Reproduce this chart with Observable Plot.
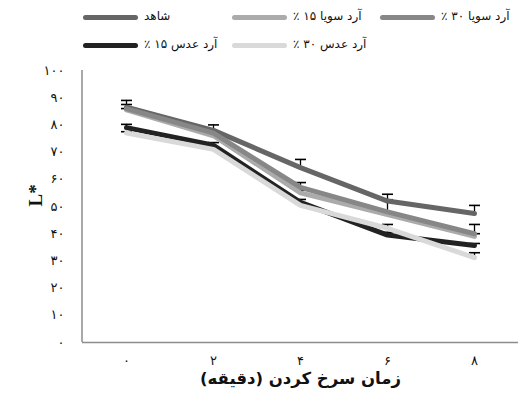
<!DOCTYPE html>
<html><head><meta charset="utf-8">
<script src="https://cdn.jsdelivr.net/npm/d3@7"></script>
<script src="https://cdn.jsdelivr.net/npm/@observablehq/plot@0.6"></script>
<style>
body{margin:0;background:#fff;font-family:"DejaVu Sans",sans-serif;}
#wrap{position:relative;width:518px;height:401px;}
#legend{position:relative;height:58px;width:518px;}
.sw{position:absolute;width:55px;height:5px;border-radius:3px;}
.lt{position:absolute;font-size:12px;color:#111;direction:rtl;white-space:nowrap;line-height:14px;}
</style></head>
<body><div id="wrap"><div id="legend"></div><div id="chart"></div></div>
<script>
const times = [0, 2, 4, 6, 8];
const timeLabels = ["۰", "۲", "۴", "۶", "۸"];
const seriesNames = ["شاهد", "آرد سویا ۱۵ ٪", "آرد سویا ۳۰ ٪", "آرد عدس ۱۵ ٪", "آرد عدس ۳۰ ٪"];
const seriesColors = ["#666666", "#ababab", "#878787", "#222222", "#d9d9d9"];
const shahed = [86.5, 78, 64.3, 52, 47.4];
const soya15 = [85.5, 76, 55, 47, 39];
const soya30 = [86, 77, 57, 48, 40];
const adas15 = [79, 72.5, 51.5, 39.5, 35.7];
const adas30 = [77, 71, 50.4, 42, 31.2];
const errShahed = [2.5, 2, 3, 2.5, 3];
const errSoya15 = [0.5, 0.5, 1, 1, 1];
const errSoya30 = [1.5, 0.5, 1.8, 4.5, 3.4];
const errAdas15 = [1.2, 1, 1.1, 1, 0.7];
const errAdas30 = [0.5, 0.5, 0.5, 1.4, 1.8];
const yTicks = [0,10,20,30,40,50,60,70,80,90,100];
const yTickLabels = ["۰","۱۰","۲۰","۳۰","۴۰","۵۰","۶۰","۷۰","۸۰","۹۰","۱۰۰"];
const xTitle = "زمان سرخ کردن (دقیقه)";
const yTitle = "L*";

const allVals = [shahed, soya15, soya30, adas15, adas30];
const allErr = [errShahed, errSoya15, errSoya30, errAdas15, errAdas30];
const data = [];
allVals.forEach((vals, s) => vals.forEach((v, i) => data.push({series: seriesNames[s], t: times[i], v, e: allErr[s][i]})));

// legend
const legendPos = [[83,17],[232,17],[380,17],[83,45],[232,45]];
const leg = document.getElementById("legend");
seriesNames.forEach((n, i) => {
  const [x, y] = legendPos[i];
  const sw = document.createElement("div");
  sw.className = "sw"; sw.style.left = x + "px"; sw.style.top = (y - 2.5) + "px"; sw.style.background = seriesColors[i];
  leg.appendChild(sw);
  const t = document.createElement("div");
  t.className = "lt"; t.textContent = n; t.style.left = (x + 61) + "px"; t.style.top = (y - 8) + "px";
  leg.appendChild(t);
});

const capSymbol = {draw(ctx, size) { ctx.moveTo(-5.5, 0); ctx.lineTo(5.5, 0); }};

const chart = Plot.plot({
  width: 518, height: 343,
  marginLeft: 82, marginRight: 0, marginTop: 12, marginBottom: 59,
  style: {fontFamily: "DejaVu Sans, sans-serif", fontSize: "12px", color: "#111", background: "#fff"},
  x: {type: "point", domain: times, padding: 0.5, label: null},
  y: {domain: [0, 100], label: null},
  color: {domain: seriesNames, range: seriesColors},
  marks: [
    Plot.axisY({ticks: yTicks, tickFormat: d => yTickLabels[yTicks.indexOf(d)], tickSize: 0, tickPadding: 18, fontSize: 13}),
    Plot.axisX({tickFormat: d => timeLabels[times.indexOf(d)], tickSize: 0, tickPadding: 13, fontSize: 13}),
    Plot.ruleY([0], {stroke: "#8c8c8c", strokeWidth: 1.5}),
    Plot.ruleX(data, {x: "t", y1: "v", y2: d => d.v + d.e, stroke: "#000", strokeWidth: 1.3}),
    Plot.dot(data, {x: "t", y: d => d.v + d.e, symbol: capSymbol, r: 4, stroke: "#000", fill: "none", strokeWidth: 1.6}),
    Plot.line(data, {x: "t", y: "v", z: "series", stroke: "series", strokeWidth: 5, strokeLinejoin: "round", strokeLinecap: "round"}),
    Plot.text([xTitle], {frameAnchor: "bottom", dy: 41, fontSize: 16.5, fontWeight: "bold", fill: "#111"}),
    Plot.text([yTitle], {frameAnchor: "left", dx: -47, rotate: -90, fontSize: 19, fontWeight: "bold", fontFamily: "Liberation Serif, serif", fill: "#111"})
  ]
});
document.getElementById("chart").appendChild(chart);
// left frame line
d3.select(chart).append("line").attr("x1", 82).attr("x2", 82).attr("y1", 12).attr("y2", 284).attr("stroke", "#8c8c8c").attr("stroke-width", 1.5);
</script></body></html>
